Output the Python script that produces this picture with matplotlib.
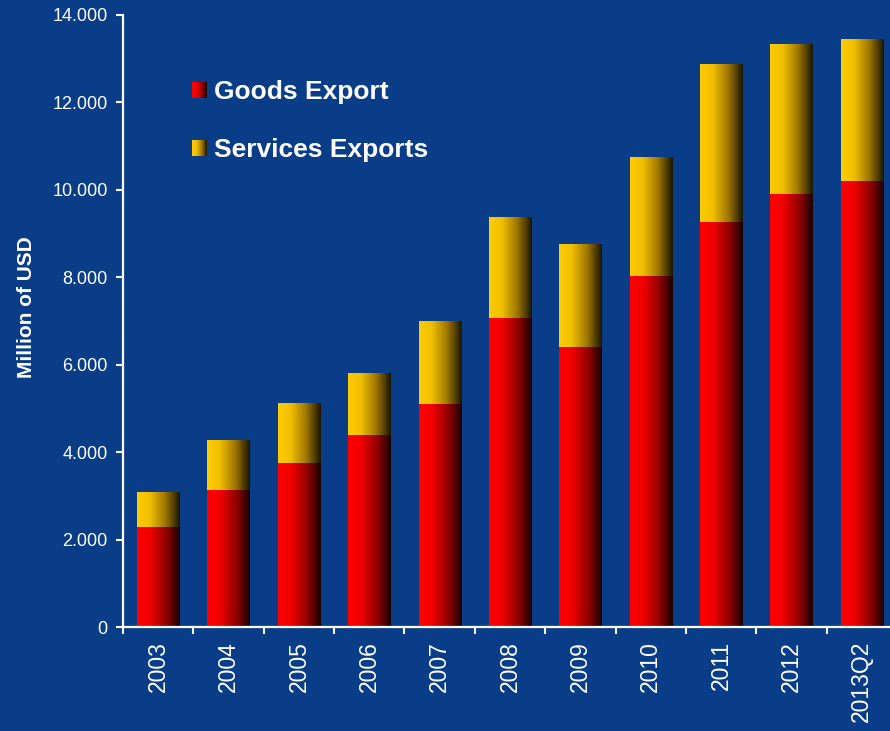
import numpy as np
import matplotlib
matplotlib.use("Agg")
import matplotlib.pyplot as plt
from matplotlib.colors import LinearSegmentedColormap
from matplotlib.legend_handler import HandlerBase
from matplotlib.image import BboxImage
from matplotlib.transforms import Bbox, TransformedBbox
from matplotlib.patches import Rectangle
from matplotlib.ticker import FuncFormatter, FixedLocator

periods = ["2003", "2004", "2005", "2006", "2007", "2008",
           "2009", "2010", "2011", "2012", "2013Q2"]
goods = [2280, 3130, 3750, 4390, 5100, 7070, 6410, 8030, 9270, 9910, 10200]
totals = [3060, 4270, 5100, 5790, 6980, 9380, 8760, 10730, 12880, 13340, 13430]
services = [t - g for t, g in zip(totals, goods)]

bg = "#093d87"
red_cmap = LinearSegmentedColormap.from_list(
    "red_shade", [(0, "#ff0000"), (0.3, "#f20000"), (0.7, "#8c0000"), (1, "#180000")])
gold_cmap = LinearSegmentedColormap.from_list(
    "gold_shade", [(0, "#ffcc00"), (0.3, "#f0bf00"), (0.65, "#a07800"), (1, "#1a1500")])
ramp = np.linspace(0, 1, 256).reshape(1, -1)

plt.rcParams["font.family"] = ["Liberation Sans", "DejaVu Sans"]

fig = plt.figure(figsize=(8.9, 7.31), dpi=100, facecolor=bg)
ax = fig.add_axes([123 / 890, 1 - 627 / 731, 774 / 890, 612 / 731])
ax.set_facecolor(bg)

x = np.arange(len(periods))
low = ax.bar(x, goods, width=0.6)
high = ax.bar(x, services, width=0.6, bottom=goods)

# shade each bar with a left-to-right gradient
for bars, cmap in ((low, red_cmap), (high, gold_cmap)):
    for p in bars:
        x0, y0 = p.get_x(), p.get_y()
        w, h = p.get_width(), p.get_height()
        ax.imshow(ramp, cmap=cmap, aspect="auto", interpolation="bilinear",
                  extent=[x0, x0 + w, y0, y0 + h], zorder=2)
        p.set_visible(False)

ax.set_xlim(-0.5, len(periods) - 0.5)
ax.set_ylim(0, 14000)

for side in ("top", "right"):
    ax.spines[side].set_visible(False)
for side in ("left", "bottom"):
    ax.spines[side].set_color("white")
    ax.spines[side].set_linewidth(1.6)

ax.set_yticks(np.arange(0, 14001, 2000))
ax.yaxis.set_major_formatter(FuncFormatter(lambda v, _: f"{int(v):,}".replace(",", ".")))
ax.tick_params(axis="y", colors="white", labelsize=13, length=5, width=1.5, pad=6)

ax.set_xticks(x)
ax.set_xticklabels(periods, rotation=90)
ax.xaxis.set_minor_locator(FixedLocator(np.arange(-0.5, len(periods), 1)))
ax.tick_params(axis="x", which="major", length=0, labelsize=16.5,
               labelcolor="white", pad=10)
ax.tick_params(axis="x", which="minor", length=5, width=1.5, color="white")

ax.set_ylabel("Million of USD", color="white", fontsize=15, fontweight="bold")
ax.yaxis.set_label_coords(-0.112, 0.523)


class GradientHandler(HandlerBase):
    def __init__(self, cmap):
        super().__init__()
        self.cmap = cmap

    def create_artists(self, legend, orig_handle, xdescent, ydescent,
                       width, height, fontsize, trans):
        box = TransformedBbox(Bbox.from_bounds(-xdescent, -ydescent, width, height), trans)
        img = BboxImage(box, cmap=self.cmap, interpolation="bilinear")
        img.set_data(ramp)
        return [img]


h_goods = Rectangle((0, 0), 1, 1)
h_serv = Rectangle((0, 0), 1, 1)
leg = ax.legend([h_goods, h_serv], ["Goods Export", "Services Exports"],
                handler_map={h_goods: GradientHandler(red_cmap),
                             h_serv: GradientHandler(gold_cmap)},
                loc="upper left", bbox_to_anchor=(192 / 890, 1 - 80 / 731),
                bbox_transform=fig.transFigure, frameon=False,
                prop={"weight": "bold", "size": 19},
                handlelength=0.55, handleheight=0.55, handletextpad=0.3,
                labelspacing=1.3, borderaxespad=0, borderpad=0)
for t in leg.get_texts():
    t.set_color("white")

fig.savefig("out.png", dpi=100, facecolor=bg)
